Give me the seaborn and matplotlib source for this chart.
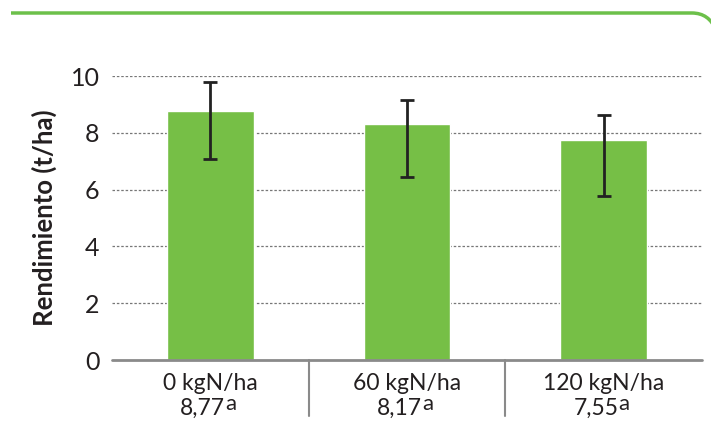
import matplotlib
matplotlib.use("Agg")
import matplotlib.pyplot as plt
from matplotlib.path import Path
from matplotlib.patches import PathPatch
import seaborn as sns
import pandas as pd

# data
doses = ["0 kgN/ha", "60 kgN/ha", "120 kgN/ha"]
yields = [8.78, 8.32, 7.75]
err_low = [1.72, 1.87, 1.97]
err_high = [1.00, 0.82, 0.89]
mean_labels = ["8,77", "8,17", "7,55"]
letters = ["a", "a", "a"]

green = "#76bf46"
txt = "#231f20"

sns.set_theme(style="white")
plt.rcParams['font.family'] = ['Lato', 'DejaVu Sans']

df = pd.DataFrame({"dose": doses, "yield": yields})

fig = plt.figure(figsize=(7.11, 4.22), dpi=100)
W, H = 711, 422
ax = fig.add_axes([112 / W, (H - 360) / H, (702 - 112) / W, (360 - 76) / H])

sns.barplot(data=df, x="dose", y="yield", color=green, saturation=1,
            width=0.44, errorbar=None, ax=ax, zorder=2)
ax.errorbar(range(len(doses)), yields, yerr=[err_low, err_high], fmt="none",
            ecolor="#222222", elinewidth=2, capsize=5, capthick=2, zorder=3)

ax.set_xlim(-0.5, 2.5)
ax.set_ylim(0, 10)
ax.set_yticks([0, 2, 4, 6, 8, 10])
for v in [2, 4, 6, 8, 10]:
    ax.axhline(v, color="#777777", lw=0.9, ls=(0, (2, 1.5)), zorder=1)
ax.axhline(0, color="#8a8a8a", lw=2, zorder=4, clip_on=False)

# category separators under the axis
for xs in [0.5, 1.5]:
    ax.plot([xs, xs], [0, -1.97], color="#8a8a8a", lw=1.5, clip_on=False)

# two-line category labels, mean with significance letter
ax.set_xticks([])
tr = ax.get_xaxis_transform()
for i, (d, m, l) in enumerate(zip(doses, mean_labels, letters)):
    ax.text(i, -30 / 284, d, transform=tr, ha="center", va="baseline",
            fontsize=16.5, color=txt)
    t = ax.text(i - 0.04, -55 / 284, m, transform=tr, ha="center",
                va="baseline", fontsize=16.5, color=txt)
    ax.annotate(l, xy=(1, 0), xycoords=t, xytext=(0.3, 6.5),
                textcoords="offset points", ha="left", va="baseline",
                fontsize=16, color=txt)

ax.tick_params(axis="y", length=0, pad=9, labelsize=18, labelcolor=txt)
ax.set_xlabel("")
ax.set_ylabel("Rendimiento (t/ha)", fontsize=18.5, fontweight="bold",
              color=txt, labelpad=10)
for s in ax.spines.values():
    s.set_visible(False)

# green frame line at the top with rounded corner
pts = [(11, 13), (692, 13), (709, 13), (716, 30)]
pts = [(x / W, 1 - y / H) for x, y in pts]
path = Path(pts, [Path.MOVETO, Path.LINETO, Path.CURVE3, Path.CURVE3])
fig.add_artist(PathPatch(path, fill=False, edgecolor="#6cc04a", lw=2.5,
                         transform=fig.transFigure, clip_on=False))

fig.savefig("out.png", dpi=100)
